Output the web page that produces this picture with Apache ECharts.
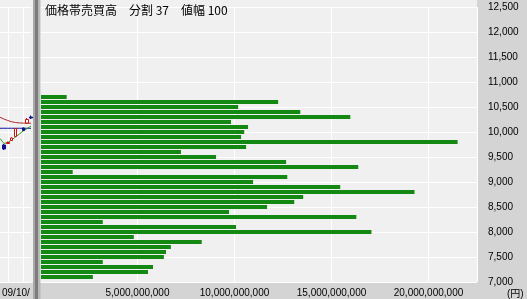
<!DOCTYPE html>
<html><head><meta charset="utf-8">
<script src="https://cdn.jsdelivr.net/npm/echarts@6/dist/echarts.min.js"></script>
<style>html,body{margin:0;padding:0;background:#f0f0f0;overflow:hidden}#c{width:527px;height:299px}</style>
</head><body><div id="c"></div>
<script>
// price levels (yen), top to bottom
const priceLevels = [10700,10600,10500,10400,10300,10200,10100,10000,9900,9800,9700,9600,9500,9400,9300,9200,9100,9000,8900,8800,8700,8600,8500,8400,8300,8200,8100,8000,7900,7800,7700,7600,7500,7400,7300,7200,7100];
// traded value (yen) at each price level
const tradedValue = [1.35e9,12.25e9,10.19e9,13.39e9,15.97e9,9.82e9,10.70e9,10.50e9,10.34e9,21.50e9,10.60e9,7.24e9,9.05e9,12.66e9,16.38e9,1.66e9,12.72e9,10.96e9,15.45e9,19.28e9,13.54e9,13.08e9,11.68e9,9.72e9,16.28e9,3.21e9,10.08e9,17.06e9,4.81e9,8.31e9,6.72e9,6.47e9,6.36e9,3.21e9,5.80e9,5.54e9,2.70e9];
const titleText = '価格帯売買高　分割 37　値幅 100';
const unitText = '(円)';
const dateText = '09/10/';

// mini price chart (left panel)
const miniDates = ['09/09/28','09/09/29','09/09/30','09/10/01','09/10/02','09/10/05','09/10/06','09/10/07','09/10/08'];
const candleSlots = [1,2,3,4,6,7,8];
const candleOHLC = [[9740,9660,9640,9760],[9770,9790,9760,9810],[9830,9880,9820,9890],[9910,10070,9900,10080],[10080,10030,10020,10090],[10180,10250,10170,10280],[10300,10280,10260,10330]];
const maRed = [10295,10260,10230,10205,10190,10182,10178,10176,10175];
const lineBlue = [10075,10075,10075,10075,10075,10075,10075,10075,10075];
const maGreen = [9870,9770,9790,9840,9900,9960,10020,10070,10120];

const FONT = 'Liberation Sans';
const chart = echarts.init(document.getElementById('c'), null, {renderer:'canvas'});
const fmt = v => (v % 5e9 === 0 && v > 0) ? v.toLocaleString('en-US') : '';

chart.setOption({
  animation: false,
  backgroundColor: '#f0f0f0',
  title: {text: titleText, left: 45, top: 4, padding: 0,
    textStyle: {fontSize: 12, fontWeight: 'normal', color: '#000', fontFamily: 'Noto Sans CJK JP'}},
  grid: [
    {left: 40.5, right: 50, top: 7, bottom: 17},
    {left: 0, width: 31, top: 7, bottom: 17}
  ],
  xAxis: [
    {gridIndex: 0, type: 'value', min: 0, max: 22.5e9, interval: 5e9, z: 1,
      axisLine: {show: false}, axisTick: {show: false},
      axisLabel: {formatter: fmt, margin: 6, fontSize: 10, color: '#000', fontFamily: FONT},
      splitLine: {lineStyle: {color: '#ffffff', width: 1}}},
    {gridIndex: 1, type: 'category', data: miniDates, boundaryGap: false, z: 1,
      axisLine: {show: false}, axisTick: {show: false}, axisLabel: {show: false},
      splitLine: {show: true, interval: (i) => i === 2 || i === 6, lineStyle: {color: '#ffffff'}}}
  ],
  yAxis: [
    {gridIndex: 0, type: 'value', position: 'right', min: 7000, max: 12500, interval: 500, z: 1,
      axisLine: {show: false}, axisTick: {show: false},
      axisLabel: {margin: 11, fontSize: 10, color: '#000', fontFamily: FONT, padding: [3, 0, 0, 0],
        formatter: v => v.toLocaleString('en-US')},
      splitLine: {lineStyle: {color: '#ffffff', width: 1}}},
    {gridIndex: 1, type: 'value', min: 7000, max: 12500, interval: 500, z: 1,
      axisLine: {show: false}, axisTick: {show: false}, axisLabel: {show: false},
      splitLine: {lineStyle: {color: '#ffffff', width: 1}}}
  ],
  series: [
    {type: 'custom', xAxisIndex: 0, yAxisIndex: 0, z: 10, clip: true,
      data: priceLevels.map((p, i) => [tradedValue[i], p]),
      encode: {x: 0, y: 1},
      renderItem: (params, api) => {
        const v = api.value(0), p = api.value(1);
        const a = api.coord([0, p]), b = api.coord([v, p]);
        const h = api.size([0, 100])[1] - 1;
        return {type: 'rect', shape: {x: Math.round(a[0]), y: a[1] - h / 2, width: b[0] - Math.round(a[0]), height: h},
          style: {fill: '#138813'}};
      }},
    {type: 'line', xAxisIndex: 1, yAxisIndex: 1, data: maRed, symbol: 'none', z: 10,
      lineStyle: {color: '#b42828', width: 1}},
    {type: 'line', xAxisIndex: 1, yAxisIndex: 1, data: lineBlue, symbol: 'none', z: 10,
      lineStyle: {color: '#1010a0', width: 1}},
    {type: 'line', xAxisIndex: 1, yAxisIndex: 1, data: maGreen, symbol: 'none', z: 10,
      lineStyle: {color: '#2e9a2e', width: 1}},
    {type: 'candlestick', xAxisIndex: 1, yAxisIndex: 1, z: 11, barWidth: 3,
      data: candleSlots.map((s, i) => [s].concat(candleOHLC[i])),
      encode: {x: 0, y: [1, 2, 3, 4]},
      itemStyle: {color: '#ffffff', borderColor: '#d01010', color0: '#10108a', borderColor0: '#10108a', borderWidth: 1}}
  ],
  graphic: [
    {type: 'rect', z: -10, silent: true, shape: {x: 477, y: 0, width: 50, height: 299}, style: {fill: '#d4d4d4'}},
    {type: 'rect', z: -10, silent: true, shape: {x: 0, y: 283, width: 477, height: 16}, style: {fill: '#d4d4d4'}},
    {type: 'rect', z: 100, silent: true, shape: {x: 33, y: 0, width: 2, height: 299}, style: {fill: '#a8a8a8'}},
    {type: 'rect', z: 100, silent: true, shape: {x: 35, y: 0, width: 3, height: 299}, style: {fill: '#7c7c7c'}},
    {type: 'rect', z: 100, silent: true, shape: {x: 38, y: 0, width: 2.5, height: 299}, style: {fill: '#b8b8b8'}},
    {type: 'text', z: 100, silent: true, x: 2, y: 293,
      style: {text: dateText, fill: '#000', font: '10px "Liberation Sans"', verticalAlign: 'middle', align: 'left'}},
    {type: 'text', z: 100, silent: true, x: 507, y: 294,
      style: {text: unitText, fill: '#000', font: '10px "Liberation Sans", "Noto Sans CJK JP"', verticalAlign: 'middle', align: 'left'}}
  ]
});
</script></body></html>
